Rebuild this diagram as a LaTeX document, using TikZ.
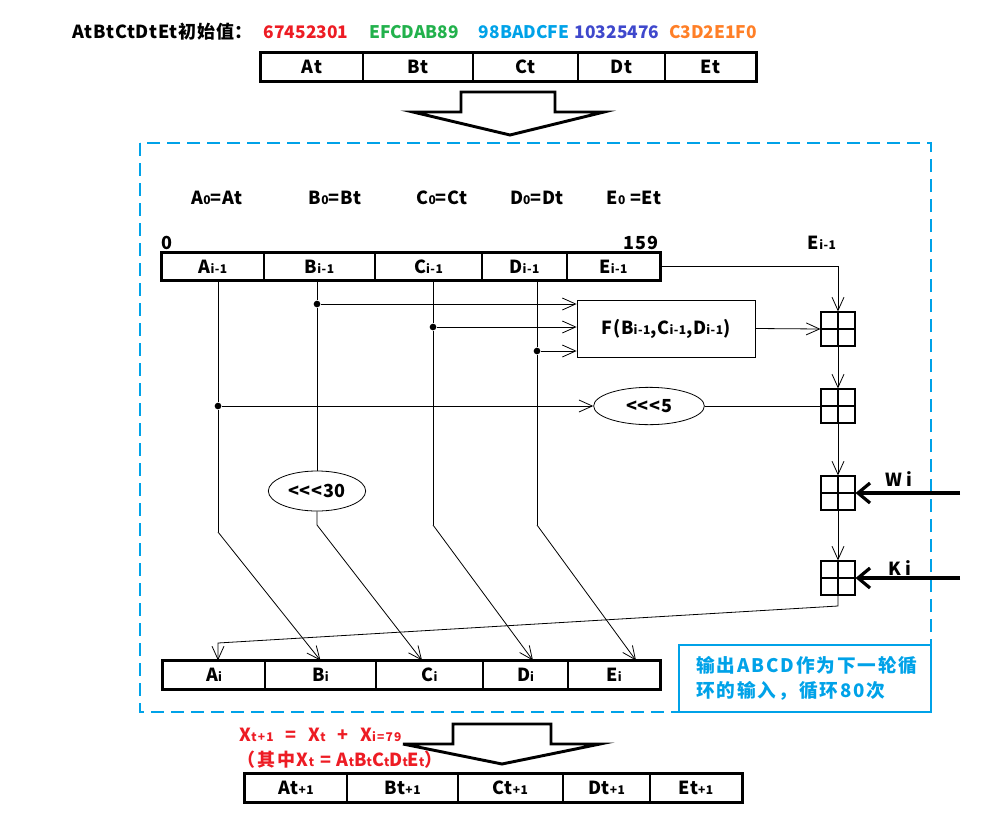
\documentclass[tikz,border=0pt]{standalone}
\usepackage{fontspec}
\setmainfont{Noto Sans CJK SC}[LetterSpace=4]
\usetikzlibrary{arrows.meta,shapes.geometric}

\definecolor{pred}{RGB}{237,28,36}
\definecolor{pgreen}{RGB}{34,177,76}
\definecolor{pcyan}{RGB}{0,162,232}
\definecolor{pindigo}{RGB}{63,72,204}
\definecolor{porange}{RGB}{255,127,39}

\newcommand{\lo}[1]{{\fontsize{9}{9}\selectfont #1}}
% one cell of a register: name, x0, x1, y0, y1, text (pixel units)
\newcommand{\regcell}[6]{%
  \node[cell, minimum width={(#3-#2)*0.75pt}, minimum height={(#5-#4)*0.75pt}]
    (#1) at ({(#2+#3)/2},{(#4+#5)/2}) {#6};}

\tikzset{
  lbl/.style={font=\fontsize{13.5}{15}\selectfont\bfseries, inner sep=1pt},
  hex/.style={font=\fontsize{13}{15}\selectfont\bfseries\addfontfeature{LetterSpace=0}, inner sep=1pt},
  cell/.style={draw, line width=0.8pt, inner sep=0pt, lbl},
  frame/.style={line width=2pt},
  bigarrow/.style={line width=2.2pt, line join=miter},
  wire/.style={line width=0.6pt},
  arr/.style={wire, -{Straight Barb[length=10pt,width=9pt]}},
  warr/.style={line width=2.4pt, -{Straight Barb[length=9pt,width=15pt]}},
  dot/.style={circle, fill, inner sep=0pt, minimum size=5pt},
  rot/.style={ellipse, draw, line width=0.6pt, inner sep=0pt, lbl},
  adder/.style={draw, line width=0.8pt, minimum size=25.5pt, inner sep=0pt,
    path picture={
      \draw[line width=1.8pt] (path picture bounding box.north) -- (path picture bounding box.south);
      \draw[line width=1.3pt] (path picture bounding box.west) -- (path picture bounding box.east);}},
  redtxt/.style={font=\fontsize{13.5}{15}\selectfont\bfseries\addfontfeature{LetterSpace=10},
    text=pred, inner sep=1pt, anchor=west},
}

\begin{document}
\begin{tikzpicture}[x=0.75pt,y=-0.75pt]
\useasboundingbox (0,0) rectangle (999,828);

% initial values
\node[lbl,anchor=west] (init) at (71,32) {AtBtCtDtEt初始值：};
\node[hex,text=pred] (hA) at (306,32) {67452301};
\node[hex,text=pgreen] (hB) at (414,32) {EFCDAB89};
\node[hex,text=pcyan] (hC) at (524,32) {98BADCFE};
\node[hex,text=pindigo] (hD) at (617,32) {10325476};
\node[hex,text=porange] (hE) at (713,32) {C3D2E1F0};

% register t
\regcell{At}{261}{363}{53}{81}{At}
\regcell{Bt}{363}{473}{53}{81}{Bt}
\regcell{Ct}{473}{578}{53}{81}{Ct}
\regcell{Dt}{578}{665}{53}{81}{Dt}
\regcell{Et}{665}{756}{53}{81}{Et}
\draw[frame] (At.north west) rectangle (Et.south east);

\draw[bigarrow] (461,92) -- (555,92) -- (555,112) -- (604,112) -- (510,135)
  -- (413,112) -- (461,112) -- cycle;

% one round
\draw[pcyan, line width=0.9pt, dash pattern=on 10pt off 5pt] (140,143) rectangle (931,712);

\node[lbl] (a0) at (217,198) {A\lo{0}=At};
\node[lbl] (b0) at (335,198) {B\lo{0}=Bt};
\node[lbl] (c0) at (442,198) {C\lo{0}=Ct};
\node[lbl] (d0) at (537,198) {D\lo{0}=Dt};
\node[lbl] (e0) at (634,198) {E\lo{0} =Et};
\node[lbl] (bit0) at (167,243) {0};
\node[lbl] (bit159) at (641,243) {159};
\node[lbl] (eLbl) at (822,243) {E\lo{i-1}};

\regcell{Ap}{162}{264}{253}{280}{A\lo{i-1}}
\regcell{Bp}{264}{375}{253}{280}{B\lo{i-1}}
\regcell{Cp}{375}{482}{253}{280}{C\lo{i-1}}
\regcell{Dp}{482}{567}{253}{280}{D\lo{i-1}}
\regcell{Ep}{567}{660}{253}{280}{E\lo{i-1}}
\draw[frame] (Ap.north west) rectangle (Ep.south east);

\node[draw, wire, lbl, minimum width=133.5pt, minimum height=42.75pt] (F) at (666,328.5)
  {F(B\lo{i-1},C\lo{i-1},D\lo{i-1})};
\node[rot, minimum width=83pt, minimum height=28pt] (r5) at (649,406) {{<}{<}{<}5};
\node[rot, minimum width=73pt, minimum height=30pt] (r30) at (317,491) {{<}{<}{<}30};

\node[adder] (s1) at (838,329) {};
\node[adder] (s2) at (838,406) {};
\node[adder] (s3) at (838,493) {};
\node[adder] (s4) at (838,578) {};

\node[dot] (jB) at (317,304) {};
\node[dot] (jC) at (433,327) {};
\node[dot] (jD) at (537,351) {};
\node[dot] (jA) at (218,406) {};
\coordinate (bA) at (218,532);
\coordinate (bB) at (317,525);
\coordinate (bC) at (433,525);
\coordinate (bD) at (537,525);

\regcell{An}{163}{265}{661}{689}{A\lo{i}}
\regcell{Bn}{265}{376}{661}{689}{B\lo{i}}
\regcell{Cn}{376}{483}{661}{689}{C\lo{i}}
\regcell{Dn}{483}{568}{661}{689}{D\lo{i}}
\regcell{En}{568}{660}{661}{689}{E\lo{i}}
\draw[frame] (An.north west) rectangle (En.south east);

% wires
\draw[wire] (Ap.south -| jA) -- (jA) -- (bA);
\draw[arr] (bA) -- (Bn.north);
\draw[wire] (Bp.south -| jB) -- (jB) -- (r30.north);
\draw[arr] (r30.south) -- (bB) -- ([xshift=-5.6pt]Cn.north);
\draw[wire] (Cp.south -| jC) -- (jC) -- (bC);
\draw[arr] (bC) -- ([xshift=5.6pt]Dn.north);
\draw[wire] (Dp.south -| jD) -- (jD) -- (bD);
\draw[arr] (bD) -- ([xshift=16.5pt]En.north);

\draw[arr] (jB) -- (jB -| F.west);
\draw[arr] (jC) -- (jC -| F.west);
\draw[arr] (jD) -- (jD -| F.west);
\draw[arr] (jA) -- (r5.west);
\draw[wire] (r5.east) -- (s2.west);

\draw[arr] (Ep.east) -| (s1.north);
\draw[arr] (F.east) -- (s1.west);
\draw[arr] (s1.south) -- (s2.north);
\draw[arr] (s2.south) -- (s3.north);
\draw[arr] (s3.south) -- (s4.north);

\coordinate (w0) at (960,493);
\coordinate (k0) at (960,578);
\draw[warr] (w0) -- (s3.east);
\draw[warr] (k0) -- (s4.east);
\node[lbl] (wLbl) at (899,479) {W i};
\node[lbl] (kLbl) at (900,568) {K i};

\coordinate (c1) at (838,606);
\coordinate (c2) at (218,643);
\draw[arr] (s4.south) -- (c1) -- (c2) -- (c2 |- An.north);

\node[draw=pcyan, line width=0.8pt, text=pcyan,
  font=\fontsize{14}{19}\selectfont\bfseries\addfontfeature{LetterSpace=10},
  minimum width=189pt, minimum height=50.25pt, text width=163pt, align=left,
  inner xsep=13pt] (note) at (805,678.5) {输出ABCD作为下一轮循\\环的输入，循环80次};

% result
\node[redtxt] (sum) at (238,735)
  {X\lo{t+1} \ =\ \ X\lo{t} \ +\ \ X\lo{i=79}};
\node[redtxt] (xt) at (236,760)
  {（其中X\lo{t}\ =\ A\lo{t}B\lo{t}C\lo{t}D\lo{t}E\lo{t}）};

\draw[bigarrow] (453,724) -- (551,724) -- (551,744) -- (600,744) -- (502,764)
  -- (403,744) -- (453,744) -- cycle;

\regcell{Ar}{245}{347}{774}{802}{At\lo{+1}}
\regcell{Br}{347}{458}{774}{802}{Bt\lo{+1}}
\regcell{Cr}{458}{563}{774}{802}{Ct\lo{+1}}
\regcell{Dr}{563}{650}{774}{802}{Dt\lo{+1}}
\regcell{Er}{650}{742}{774}{802}{Et\lo{+1}}
\draw[frame] (Ar.north west) rectangle (Er.south east);
\end{tikzpicture}
\end{document}
